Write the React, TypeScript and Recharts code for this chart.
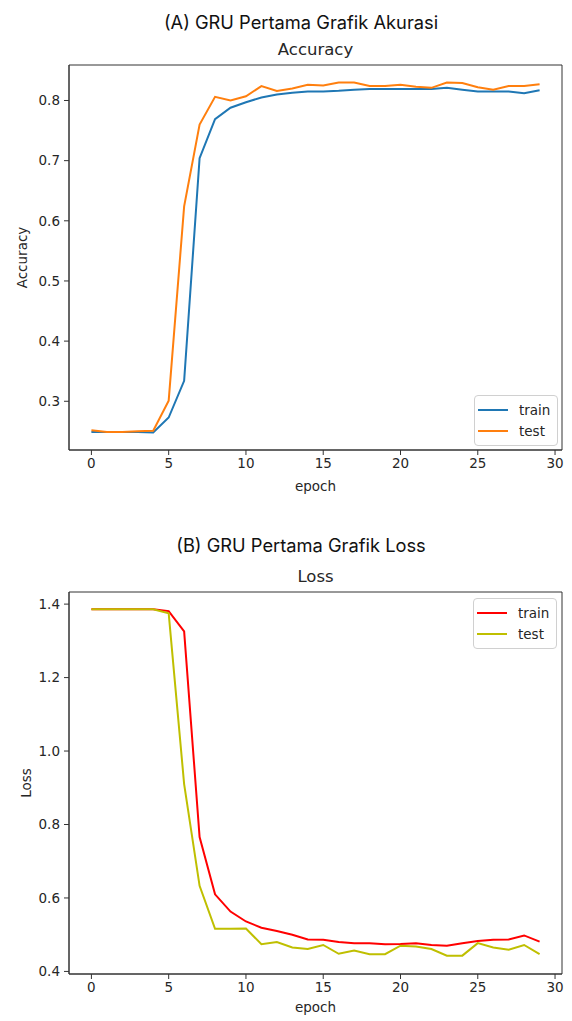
import React from "react";
import { LineChart, Line, XAxis, YAxis, Legend, ReferenceArea } from "recharts";

const epochs = [0, 1, 2, 3, 4, 5, 6, 7, 8, 9, 10, 11, 12, 13, 14, 15, 16, 17, 18, 19, 20, 21, 22, 23, 24, 25, 26, 27, 28, 29];

const accTrain = [0.249, 0.249, 0.249, 0.249, 0.248, 0.273, 0.334, 0.704, 0.769, 0.788, 0.797, 0.805, 0.81, 0.813, 0.815, 0.815, 0.816, 0.818, 0.819, 0.819, 0.819, 0.819, 0.819, 0.821, 0.818, 0.815, 0.815, 0.815, 0.812, 0.817];
const accTest = [0.252, 0.249, 0.249, 0.25, 0.251, 0.301, 0.624, 0.76, 0.806, 0.8, 0.807, 0.824, 0.816, 0.82, 0.826, 0.825, 0.83, 0.83, 0.824, 0.824, 0.826, 0.823, 0.821, 0.83, 0.829, 0.822, 0.818, 0.824, 0.824, 0.827];

const lossTrain = [1.386, 1.386, 1.386, 1.386, 1.386, 1.381, 1.326, 0.766, 0.61, 0.563, 0.536, 0.519, 0.51, 0.5, 0.487, 0.486, 0.48, 0.477, 0.477, 0.474, 0.475, 0.477, 0.472, 0.47, 0.477, 0.483, 0.486, 0.487, 0.498, 0.481];
const lossTest = [1.386, 1.386, 1.386, 1.386, 1.386, 1.375, 0.91, 0.633, 0.516, 0.516, 0.517, 0.474, 0.48, 0.465, 0.461, 0.472, 0.448, 0.457, 0.447, 0.447, 0.47, 0.468, 0.461, 0.443, 0.443, 0.477, 0.465, 0.459, 0.472, 0.447];

const seriesOrder = ["train", "test"];
const xTicks = [0, 5, 10, 15, 20, 25, 30];
const accTicks = [0.3, 0.4, 0.5, 0.6, 0.7, 0.8];
const lossTicks = [0.4, 0.6, 0.8, 1.0, 1.2, 1.4];

const xDomain = [-1.45, 30.45];
const accDomain = [0.219, 0.859];
const lossDomain = [0.393, 1.433];

const accData = epochs.map((e, i) => ({ epoch: e, train: accTrain[i], test: accTest[i] }));
const lossData = epochs.map((e, i) => ({ epoch: e, train: lossTrain[i], test: lossTest[i] }));

const ink = "#262626";
const mplFont = "'DejaVu Sans', sans-serif";
const tickStyle = { fontSize: 13.5, fill: ink, fontFamily: mplFont };

function BoxLegend({ payload }: any) {
  const items = [...(payload || [])].sort((a: any, b: any) => seriesOrder.indexOf(a.value) - seriesOrder.indexOf(b.value));
  return (
    <div
      style={{
        border: "1px solid #d0d0d0",
        borderRadius: 4,
        background: "rgba(255,255,255,0.8)",
        padding: "3px 7px 3px 3px",
        fontFamily: mplFont,
        fontSize: 13.5,
        color: ink,
      }}
    >
      {items.map((p: any) => (
        <div key={p.value} style={{ display: "flex", alignItems: "center", height: 21.5 }}>
          <span style={{ display: "inline-block", width: 30, borderTop: `2px solid ${p.color}`, marginRight: 11 }} />
          {p.value}
        </div>
      ))}
    </div>
  );
}

function Caption({ text, top }: { text: string; top: number }) {
  return (
    <div style={{ position: "absolute", left: 0, width: 602, top, textAlign: "center", fontFamily: "Inter, sans-serif", fontSize: 18.3, color: "#111" }}>
      {text}
    </div>
  );
}

function Title({ text, top }: { text: string; top: number }) {
  return (
    <div style={{ position: "absolute", left: 69, width: 493, top, textAlign: "center", fontFamily: mplFont, fontSize: 16.5, color: ink }}>
      {text}
    </div>
  );
}

export default function App() {
  return (
    <div style={{ position: "absolute", left: 0, top: 0, width: 572, height: 1021, background: "#fff", overflow: "hidden" }}>
      <Caption text="(A) GRU Pertama Grafik Akurasi" top={11} />
      <Title text="Accuracy" top={40} />
      <div style={{ position: "absolute", left: 0, top: 0 }}>
        <LineChart width={572} height={500} data={accData} margin={{ top: 65, right: 10, bottom: 8, left: 10 }}>
          <XAxis
            dataKey="epoch"
            type="number"
            domain={xDomain}
            ticks={xTicks}
            allowDataOverflow
            height={42}
            tickSize={5}
            tickMargin={3}
            tick={tickStyle}
            stroke="#333"
            label={{ value: "epoch", position: "insideBottom", offset: 1, style: { fontSize: 13.5, fill: ink, fontFamily: mplFont } }}
          />
          <YAxis
            type="number"
            domain={accDomain}
            ticks={accTicks}
            allowDataOverflow
            width={59}
            tickSize={5}
            tickMargin={4}
            tick={tickStyle}
            stroke="#333"
            tickFormatter={(v: number) => v.toFixed(1)}
            label={{ value: "Accuracy", angle: -90, position: "insideLeft", offset: 12, style: { textAnchor: "middle", fontSize: 13.5, fill: ink, fontFamily: mplFont } }}
          />
          <ReferenceArea x1={xDomain[0]} x2={xDomain[1]} y1={accDomain[0]} y2={accDomain[1]} fill="none" stroke="#333" strokeWidth={1} />
          <Line dataKey="train" name="train" stroke="#1f77b4" strokeWidth={2} dot={false} isAnimationActive={false} />
          <Line dataKey="test" name="test" stroke="#ff7f0e" strokeWidth={2} dot={false} isAnimationActive={false} />
          <Legend
            layout="vertical"
            align="center"
            verticalAlign="middle"
            content={(props: any) => <BoxLegend payload={props.payload} />}
            wrapperStyle={{ top: 395, left: 474, right: "auto", bottom: "auto", width: "auto" }}
          />
        </LineChart>
      </div>

      <Caption text="(B) GRU Pertama Grafik Loss" top={534} />
      <Title text="Loss" top={567} />
      <div style={{ position: "absolute", left: 0, top: 520 }}>
        <LineChart width={572} height={501} data={lossData} margin={{ top: 72, right: 10, bottom: 8, left: 10 }}>
          <XAxis
            dataKey="epoch"
            type="number"
            domain={xDomain}
            ticks={xTicks}
            allowDataOverflow
            height={39}
            tickSize={5}
            tickMargin={3}
            tick={tickStyle}
            stroke="#333"
            label={{ value: "epoch", position: "insideBottom", offset: 1, style: { fontSize: 13.5, fill: ink, fontFamily: mplFont } }}
          />
          <YAxis
            type="number"
            domain={lossDomain}
            ticks={lossTicks}
            allowDataOverflow
            width={59}
            tickSize={5}
            tickMargin={4}
            tick={tickStyle}
            stroke="#333"
            tickFormatter={(v: number) => v.toFixed(1)}
            label={{ value: "Loss", angle: -90, position: "insideLeft", offset: 16, style: { textAnchor: "middle", fontSize: 13.5, fill: ink, fontFamily: mplFont } }}
          />
          <ReferenceArea x1={xDomain[0]} x2={xDomain[1]} y1={lossDomain[0]} y2={lossDomain[1]} fill="none" stroke="#333" strokeWidth={1} />
          <Line dataKey="train" name="train" stroke="#ff0000" strokeWidth={2} dot={false} isAnimationActive={false} />
          <Line dataKey="test" name="test" stroke="#bfbf00" strokeWidth={2} dot={false} isAnimationActive={false} />
          <Legend
            layout="vertical"
            align="center"
            verticalAlign="middle"
            content={(props: any) => <BoxLegend payload={props.payload} />}
            wrapperStyle={{ top: 78, left: 473, right: "auto", bottom: "auto", width: "auto" }}
          />
        </LineChart>
      </div>
    </div>
  );
}
